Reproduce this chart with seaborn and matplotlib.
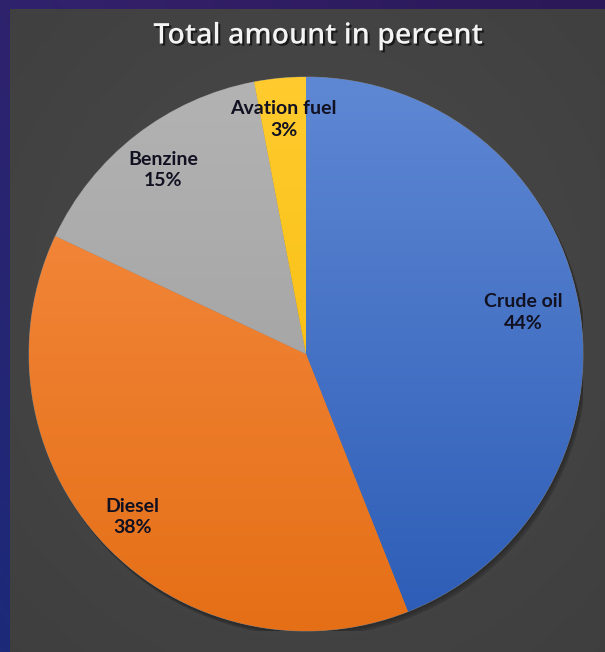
import numpy as np
import matplotlib
matplotlib.use("Agg")
import matplotlib.pyplot as plt
import matplotlib.patheffects as pe
from matplotlib.colors import LinearSegmentedColormap
import seaborn as sns

categories = ["Crude oil", "Diesel", "Benzine", "Avation fuel"]
values = [44, 38, 15, 3]
title = "Total amount in percent"

light_cols = ["#5f88d4", "#f68d45", "#b3b3b3", "#ffcb2e"]
dark_cols = ["#2c5cb6", "#e56f16", "#9a9a9a", "#f5b800"]
label_dist = [0.80, 0.86, 0.84, 0.85]

sns.set_theme(style="white")
plt.rcParams["font.family"] = ["Lato", "DejaVu Sans"]

fig = plt.figure(figsize=(6.05, 6.52), dpi=100, facecolor="#2a1c5c")

# border gradient (purple) background
bg = fig.add_axes([0, 0, 1, 1])
bg.set_axis_off()
yy, xx = np.mgrid[0:1:200j, 0:1:200j]
border_cmap = LinearSegmentedColormap.from_list("b", ["#1c2a7a", "#33206a", "#2a1858"])
bg.imshow(xx * 0.6 + (1 - yy) * 0.4, cmap=border_cmap, aspect="auto", extent=[0, 1, 0, 1])
bg.set_xlim(0, 1); bg.set_ylim(0, 1)

# gray panel
panel = fig.add_axes([10 / 605, 0, 1 - 10 / 605, 1 - 9 / 652])
panel.set_axis_off()
panel_cmap = LinearSegmentedColormap.from_list("p", ["#3e3e3e", "#4a4a4a"])
py, px = np.mgrid[0:1:200j, 0:1:200j]
panel.imshow(1 - np.hypot(px - 0.5, py - 0.45) / 0.8, cmap=panel_cmap, aspect="auto",
             extent=[0, 1, 0, 1], vmin=0, vmax=1)
panel.set_xlim(0, 1); panel.set_ylim(0, 1)

fig.text(318 / 605, 1 - 36 / 652, title, ha="center", va="center", color="#f4f4f4",
         fontsize=20.5, fontweight="semibold", family=["Open Sans", "DejaVu Sans"],
         path_effects=[pe.withSimplePatchShadow(offset=(1.5, -1.5), shadow_rgbFace="black", alpha=0.6)])

cx, cy, r = 306, 354, 277
ax = fig.add_axes([(cx - r) / 605, 1 - (cy + r) / 652, 2 * r / 605, 2 * r / 652])
ax.set_facecolor("none")

labels = [f"{c}\n{v}%" for c, v in zip(categories, values)]
wedges, texts = ax.pie(values, labels=labels, startangle=90, counterclock=False,
                       colors=light_cols, labeldistance=0.83,
                       wedgeprops=dict(linewidth=0.6, edgecolor="#7a7a7a"),
                       textprops=dict(fontsize=14, fontweight="bold", color="#111122",
                                      ha="center", va="center", linespacing=1.3))
ax.set_xlim(-1, 1); ax.set_ylim(-1, 1)
ax.set_aspect("equal")

# move labels to per-slice distances along the slice mid-angle
for w, t, d in zip(wedges, texts, label_dist):
    ang = np.deg2rad((w.theta1 + w.theta2) / 2)
    t.set_position((d * np.cos(ang), d * np.sin(ang)))

# soft shadow behind pie
for k, a in enumerate([0.10, 0.10, 0.10]):
    shadow = plt.Circle((0.004 * (k + 1), -0.006 * (k + 1)), 1.0, color="black", alpha=a, zorder=0.5)
    ax.add_patch(shadow)

gy = np.linspace(1, 0, 256)[:, None] * np.ones((1, 2))
for w, lc, dc in zip(wedges, light_cols, dark_cols):
    cmap = LinearSegmentedColormap.from_list("g", [dc, lc])
    im = ax.imshow(gy, cmap=cmap, extent=[-1, 1, -1, 1], aspect="auto", zorder=w.get_zorder() + 0.1)
    im.set_clip_path(w)
for t in texts:
    t.set_zorder(5)
ax.set_xlim(-1, 1); ax.set_ylim(-1, 1)
ax.set_axis_off()

fig.savefig("out.png", dpi=100, facecolor=fig.get_facecolor())
